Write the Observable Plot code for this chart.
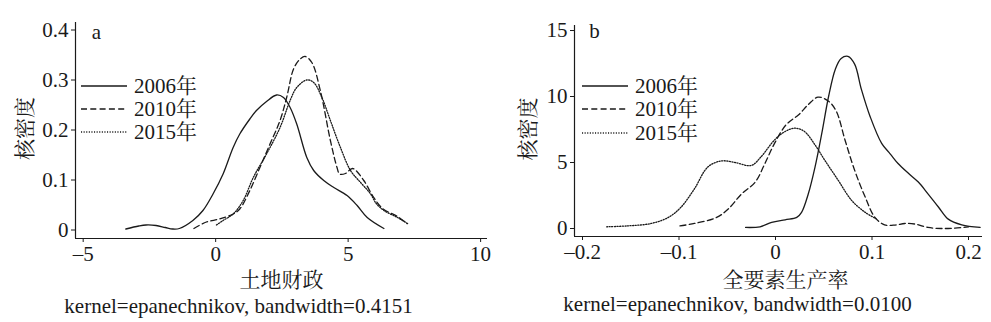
<!DOCTYPE html>
<html><head><meta charset="utf-8">
<script src="https://cdn.jsdelivr.net/npm/d3@7"></script>
<script src="https://cdn.jsdelivr.net/npm/@observablehq/plot@0.6"></script>
<style>
body{margin:0;background:#fff;}
#wrap{position:relative;width:991px;height:322px;overflow:hidden;color:#1a1a1a;}
.panel{position:absolute;top:0;}
.leg{position:absolute;font-size:21px;line-height:1;display:flex;align-items:center;white-space:nowrap;}
.leg svg{margin-right:7px;}
</style>
</head><body>
<div id="wrap"></div>
<script>
// ---- data: panel a (土地财政) ----
const seriesNames = ["2006年", "2010年", "2015年"];
const a2006 = [[-3.39,0.002],[-2.9,0.008],[-2.63,0.01],[-2.25,0.009],[-1.9,0.005],[-1.62,0.002],[-1.37,0.003],[-0.86,0.019],[-0.48,0.039],[-0.10,0.072],[0.28,0.112],[0.66,0.165],[0.91,0.192],[1.29,0.222],[1.54,0.239],[1.92,0.257],[2.30,0.270],[2.56,0.265],[2.81,0.245],[3.06,0.212],[3.44,0.145],[3.70,0.119],[4.08,0.099],[4.46,0.085],[4.96,0.069],[5.34,0.049],[5.72,0.025],[6.35,0.003]];
const a2010 = [[-0.82,0.003],[-0.35,0.016],[0.15,0.022],[0.66,0.032],[0.91,0.042],[1.29,0.079],[1.67,0.125],[2.05,0.172],[2.43,0.219],[2.68,0.265],[2.94,0.322],[3.19,0.342],[3.38,0.347],[3.63,0.335],[3.95,0.279],[4.33,0.179],[4.58,0.125],[4.68,0.112],[4.90,0.113],[5.17,0.123],[5.59,0.099],[5.93,0.068],[6.30,0.043],[6.86,0.027],[7.22,0.013]];
const a2015 = [[0.03,0.010],[0.28,0.019],[0.66,0.032],[1.04,0.059],[1.42,0.105],[1.92,0.152],[2.43,0.205],[2.81,0.259],[3.06,0.285],[3.44,0.300],[3.70,0.295],[4.01,0.265],[4.33,0.219],[4.71,0.165],[5.09,0.119],[5.47,0.095],[5.85,0.072],[6.06,0.053],[6.35,0.039],[6.86,0.025],[7.27,0.012]];
const aXTicks = [-5, 0, 5, 10];
const aYTicks = [0, 0.1, 0.2, 0.3, 0.4];
const aXDomain = [-5.29, 10.26];
const aYDomain = [-0.017, 0.415];
const aXLabel = "土地财政";
const aCaption = "kernel=epanechnikov, bandwidth=0.4151";
const aTag = "a";

// ---- data: panel b (全要素生产率) ----
const b2006 = [[-0.031,0.08],[-0.016,0.13],[-0.004,0.46],[0.010,0.66],[0.022,0.84],[0.027,1.22],[0.034,2.63],[0.041,4.67],[0.048,7.22],[0.055,10.0],[0.062,12.07],[0.068,12.88],[0.075,13.04],[0.082,12.45],[0.089,10.54],[0.098,8.49],[0.110,6.45],[0.119,5.64],[0.127,4.92],[0.138,4.16],[0.148,3.52],[0.158,2.63],[0.169,1.61],[0.179,0.71],[0.193,0.28],[0.212,0.08]];
const b2010 = [[-0.099,0.20],[-0.084,0.38],[-0.061,0.84],[-0.049,1.48],[-0.035,2.63],[-0.021,3.52],[-0.011,4.92],[-0.001,6.45],[0.011,7.86],[0.024,8.62],[0.034,9.39],[0.044,9.95],[0.055,9.64],[0.063,8.88],[0.072,6.71],[0.082,4.41],[0.093,2.37],[0.103,0.84],[0.113,0.28],[0.124,0.26],[0.134,0.38],[0.145,0.33],[0.158,0.08],[0.172,0.0],[0.186,0.03],[0.200,0.13]];
const b2015 = [[-0.175,0.13],[-0.153,0.20],[-0.129,0.38],[-0.111,0.84],[-0.098,1.61],[-0.084,3.01],[-0.070,4.67],[-0.056,5.12],[-0.042,5.00],[-0.025,4.78],[-0.015,5.43],[-0.001,6.71],[0.010,7.35],[0.020,7.60],[0.030,7.35],[0.041,6.33],[0.051,5.18],[0.065,3.65],[0.079,2.12],[0.093,1.22],[0.104,0.75]];
const bXTicks = [-0.2, -0.1, 0, 0.1, 0.2];
const bYTicks = [0, 5, 10, 15];
const bXDomain = [-0.2083, 0.2145];
const bYDomain = [-0.606, 15.38];
const bXLabel = "全要素生产率";
const bCaption = "kernel=epanechnikov, bandwidth=0.0100";
const bTag = "b";
const yLabel = "核密度";

const dashes = [null, "6,3.3", "1.1,1.5"];
const FONT = "'Liberation Serif', 'Noto Serif CJK SC', serif";
const INK = "#1a1a1a";

function panel(o) {
  const series = [o.s2006, o.s2010, o.s2015];
  const marks = [
    Plot.ruleY([o.yDomain[0]], {stroke: INK, strokeWidth: 1.2}),
    Plot.ruleX([o.xDomain[0]], {stroke: INK, strokeWidth: 1.2}),
    Plot.axisX({ticks: o.xTicks, tickSize: 4, tickPadding: 4, fontSize: 21, stroke: INK, fill: INK, label: null, tickFormat: o.xFmt}),
    Plot.axisY({ticks: o.yTicks, tickSize: 4, tickPadding: 3, fontSize: 21, stroke: INK, fill: INK, label: null, tickFormat: o.yFmt}),
  ];
  series.forEach((s, i) => {
    marks.push(Plot.line(s, {x: d => d[0], y: d => d[1], curve: "catmull-rom", stroke: INK, strokeWidth: 1.3, strokeDasharray: dashes[i]}));
  });
  marks.push(
    Plot.text([o.xLabel], {frameAnchor: "bottom", dx: o.xlDx, dy: o.xlDy, fontSize: 21, fill: INK, lineAnchor: "middle", textAnchor: "middle"}),
    Plot.text([o.caption], {frameAnchor: "bottom", dx: o.capDx, dy: o.capDy, fontSize: 21, fill: INK, lineAnchor: "middle", textAnchor: "middle"}),
    Plot.text([yLabel], {frameAnchor: "left", dx: o.ylDx, dy: o.ylDy, rotate: -90, fontSize: 21, fill: INK, lineAnchor: "middle", textAnchor: "middle"}),
    Plot.text([o.tag], {frameAnchor: "top-left", dx: o.tagDx, dy: o.tagDy, fontSize: 21, fill: INK, lineAnchor: "middle", textAnchor: "middle"})
  );
  const svg = Plot.plot({
    width: o.width, height: 322,
    marginLeft: o.ml, marginRight: o.mr, marginTop: o.mt, marginBottom: 322 - o.bottom,
    x: {domain: o.xDomain},
    y: {domain: o.yDomain},
    style: {fontSize: "21px", color: INK, background: "transparent"},
    marks
  });
  svg.style.fontFamily = FONT;
  return svg;
}

const fmtA = d => d < 0 ? "\u2013" + Math.abs(d) : String(d);
const wrap = document.getElementById("wrap");
wrap.style.fontFamily = FONT;

const pa = panel({s2006: a2006, s2010: a2010, s2015: a2015, xTicks: aXTicks, yTicks: aYTicks, xDomain: aXDomain, yDomain: aYDomain,
  xLabel: aXLabel, caption: aCaption, tag: aTag, width: 495, ml: 75, mr: 8, mt: 22, bottom: 238,
  xlDx: 0, xlDy: 42, capDx: -43, capDy: 68, ylDx: -50, ylDy: -2, tagDx: 21, tagDy: 10, xFmt: fmtA, yFmt: d => String(d)});
pa.classList.add("panel"); pa.style.left = "0px";
wrap.appendChild(pa);

const pb = panel({s2006: b2006, s2010: b2010, s2015: b2015, xTicks: bXTicks, yTicks: bYTicks, xDomain: bXDomain, yDomain: bYDomain,
  xLabel: bXLabel, caption: bCaption, tag: bTag, width: 496, ml: 79, mr: 9, mt: 25, bottom: 236,
  xlDx: 7, xlDy: 44, capDx: -41, capDy: 68, ylDx: -46, ylDy: -2, tagDx: 20, tagDy: 6, xFmt: fmtA, yFmt: d => String(d)});
pb.classList.add("panel"); pb.style.left = "495px";
wrap.appendChild(pb);

// legends
function legend(left, tops) {
  seriesNames.forEach((name, i) => {
    const div = document.createElement("div");
    div.className = "leg";
    div.style.left = left + "px";
    div.style.top = (tops[i] - 11) + "px";
    div.style.height = "22px";
    div.innerHTML = `<svg width="46" height="4"><line x1="0" x2="46" y1="2" y2="2" stroke="${INK}" stroke-width="1.3" ${dashes[i] ? `stroke-dasharray="${dashes[i]}"` : ""}/></svg><span>${name}</span>`;
    wrap.appendChild(div);
  });
}
legend(81, [86, 109, 132]);
legend(582, [86, 109, 133]);
</script>
</body></html>
